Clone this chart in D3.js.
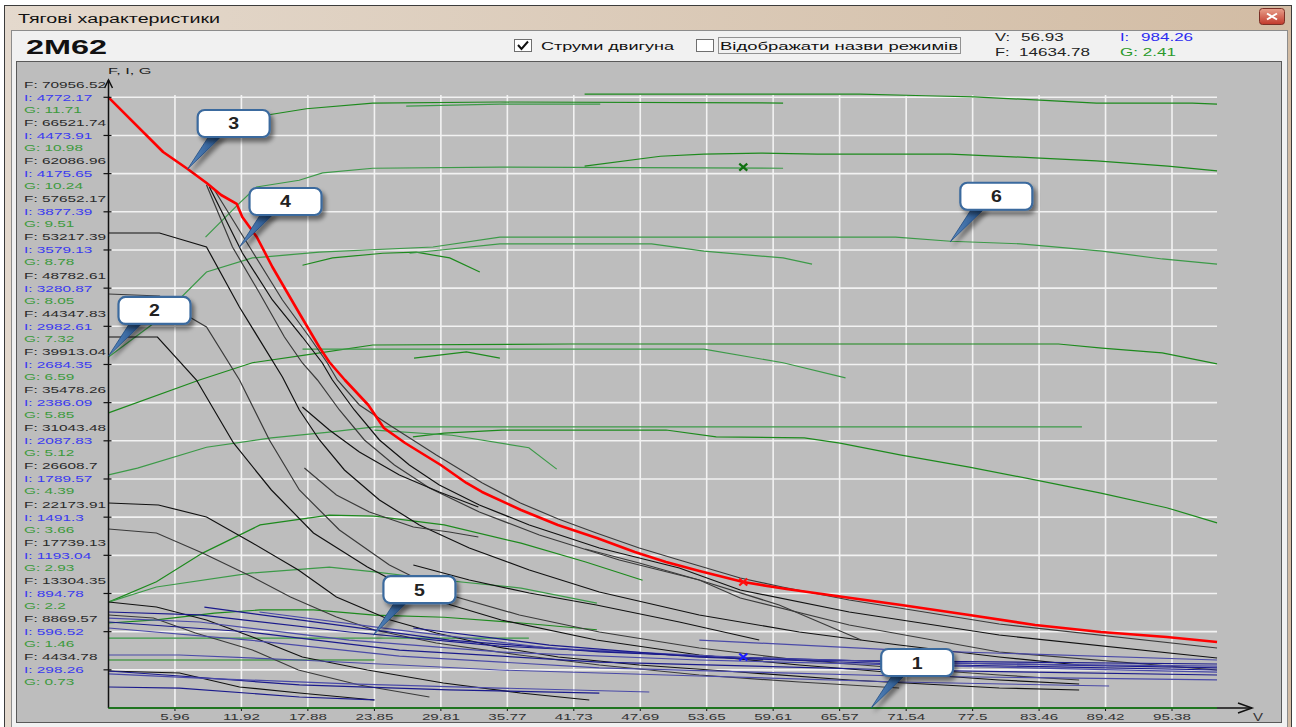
<!DOCTYPE html>
<html><head><meta charset="utf-8">
<script src="https://cdn.jsdelivr.net/npm/d3@7"></script>
<style>
html,body{margin:0;padding:0;background:#fff;}
svg{display:block;font-family:Arial,"Liberation Sans",sans-serif;}
</style></head><body>
<svg id="chart" width="1296" height="727"></svg>
<script>
// ---- axis ticks ----
const vTicks = [5.96, 11.92, 17.88, 23.85, 29.81, 35.77, 41.73, 47.69, 53.65, 59.61, 65.57, 71.54, 77.5, 83.46, 89.42, 95.38];
const fTicks = [4434.78, 8869.57, 13304.35, 17739.13, 22173.91, 26608.7, 31043.48, 35478.26, 39913.04, 44347.83, 48782.61, 53217.39, 57652.17, 62086.96, 66521.74, 70956.52];
const iTicks = [298.26, 596.52, 894.78, 1193.04, 1491.3, 1789.57, 2087.83, 2386.09, 2684.35, 2982.61, 3280.87, 3579.13, 3877.39, 4175.65, 4473.91, 4772.17];
const gTicks = [0.73, 1.46, 2.2, 2.93, 3.66, 4.39, 5.12, 5.85, 6.59, 7.32, 8.05, 8.78, 9.51, 10.24, 10.98, 11.71];

// ---- cursor readout ----
const cursorV = 56.93, cursorF = 14634.78, cursorI = 984.26, cursorG = 2.41;
const markerI = 398.5, markerG = 10.37;

// ---- limiting traction curve F(V) ----
const redEnvelope = [[0,70957],[4.9,64602],[7.1,62626],[8.8,61000],[10.1,59605],[11.5,58560],[12.0,57049],[13.3,54726],[14.7,51240],[17.1,45895],[18.9,41945],[19.8,40202],[21.2,38110],[23.3,35206],[24.7,32533],[26.6,30790],[29.8,28234],[32.1,26143],[33.5,25097],[37.0,23006],[40.3,21263],[43.8,19752],[47.2,18126],[50.0,16964],[53.0,15918],[56.93,14635],[60.8,13827],[65.3,13013],[71.1,11968],[77.2,10806],[83.1,9644],[89.0,8830],[94.9,8249],[99.42,7669]];

// ---- traction curves per position F(V) ----
const tractionCurves = [
  [[0,55190],[4.57,55190],[8.79,53564],[11.74,46592],[15.6,38459],[17.12,34625],[18.92,31139],[21.16,27653],[24.3,24168],[27.88,21263],[32.36,18590],[37.74,16034],[44.02,13478],[52.98,10806],[61.95,8830],[70.91,7320],[79.88,5926],[87.05,4996]],
  [[0,48103],[4.57,47870],[7.26,45430],[8.79,44268],[11.75,38110],[14.43,31139],[17.12,25329],[20.71,20682],[25.19,16615],[30.57,13129],[36.85,10806],[44.02,8830],[52.99,6971],[61.95,5577],[70.91,4648],[79.88,3834],[87.05,3253]],
  [[0,43106],[4.39,43106],[7.89,38110],[11.21,30790],[14.61,25329],[18.38,20333],[23.22,16383],[28.33,12897],[35.23,10225],[43.75,7901],[52.99,6158],[61.95,4996],[70.91,4067],[79.88,3253],[87.05,2789]],
  [[8.79,60767],[11.12,53564],[13.54,48219],[15.78,43106],[17.39,40086],[18.74,38110],[20.71,34625],[22.95,31139],[25.64,28234],[28.78,25562],[33.26,22773],[38.64,20101],[45.81,17196],[52.98,14872],[56.66,12781],[66.43,9644],[79.88,6507],[99.42,4415]],
  [[9.05,60535],[12.01,52866],[14.7,47406],[17.39,43106],[19.18,40086],[20.08,38110],[22.05,34625],[24.3,31139],[26.98,28234],[29.67,25910],[33.26,23587],[37.74,21263],[44.02,18590],[51.19,16267],[56.66,13710],[66.43,11154],[79.88,8482],[99.42,5810]],
  [[9.5,60186],[12.82,53215],[15.6,47406],[18.02,43106],[19.63,40086],[20.53,38110],[22.5,35205],[25.19,32882],[29.4,29396],[33.53,26143],[36.94,23819],[40.34,21960],[43.75,20333],[47.6,18590],[51.19,17196],[56.66,15105],[60.42,14059],[66.43,12549],[79.88,9760],[99.42,6971]],
  [[17.39,34973],[19.81,32301],[22.5,29745],[26.09,27072],[29.67,25097],[33.17,23354]],
  [[17.57,27886],[20.44,24748],[23.4,22773],[27.34,21030],[30.57,20449],[33.17,19868]],
  [[27.34,16615],[32.36,14872],[37.74,13362],[43.75,11968],[51.19,9992],[58.36,7901]],
  [[42.76,18474],[47.6,16848],[52.98,14872],[60.15,11968],[67.51,7901]],
  [[0,23819],[4.48,23587],[8.79,22192],[12.91,19171],[17.03,16034],[20.44,12897],[25.28,10225],[29.4,8714],[34.87,7088],[40.34,5926],[47.6,4996],[56.57,4183],[66.43,3253],[79.88,2324],[87.05,2091]],
  [[0,20798],[4.3,20333],[8.43,18009],[12.91,15221],[16.32,12897],[20.44,10573],[23.85,9063],[29.4,7552],[36.85,6158],[44.02,4996],[52.99,3834],[61.95,3021],[70.91,2324]],
  [[0,12316],[4.3,11735],[8.79,10225],[12.91,8249],[17.39,5926],[23.22,4415],[30.03,2905],[36.94,1743],[43.12,930]],
  [[0,10806],[4.03,10457],[7.8,8714],[12.91,6739],[17.03,4415],[22.5,2672],[28.78,1278]],
  [[0,4299],[6.37,4067],[11.75,2440],[17.12,1743],[23.85,930]]
];

// ---- motor current curves I(V) ----
const currentCurves = [
  [[0,750],[8.16,727],[21.6,594],[35.05,484],[52.99,406],[70.91,359],[99.42,313]],
  [[0,703],[8.16,672],[21.6,531],[35.05,438],[52.99,375],[70.91,336],[99.42,281]],
  [[0,672],[12.64,594],[26.09,453],[44.02,359],[70.91,297],[99.42,258]],
  [[0,625],[12.64,531],[26.09,406],[44.02,313],[70.91,250],[99.42,219]],
  [[8.6,789],[17.12,688],[30.57,531],[44.02,438],[61.95,375],[99.42,344]],
  [[13.54,750],[26.09,609],[39.53,469],[57.47,391],[79.88,344],[99.42,328]],
  [[27.34,625],[39.53,492],[52.99,398],[70.91,344],[99.42,297]],
  [[0,414],[6.37,414],[17.12,375],[35.05,297],[52.99,250],[70.91,203],[89.74,172]],
  [[0,289],[6.37,250],[17.12,180],[30.57,141],[44.02,117]],
  [[0,266],[8.16,234],[21.6,188],[35.05,156],[48.5,125]],
  [[0,164],[6.37,156],[17.12,86],[23.85,63]],
  [[52.99,531],[70.91,453],[99.42,375]]
];

// ---- fuel consumption curves G(V) ----
const fuelCurves = [
  [[12.65,11.31],[14.25,11.37],[17.75,11.49],[23.7,11.60],[35.1,11.62],[60.5,11.60]],
  [[26.7,11.54],[35.1,11.58],[44.1,11.58]],
  [[42.7,11.77],[67.4,11.77],[73.3,11.74],[77.6,11.72],[83.1,11.66],[88.6,11.60],[97.2,11.60],[99.42,11.58]],
  [[8.7,9.03],[11.75,9.68],[13.27,9.99],[17.1,10.12],[19.2,10.26],[23.7,10.35],[35.1,10.37],[60.5,10.35]],
  [[42.7,10.39],[49.5,10.58],[53.4,10.62],[58.5,10.64],[63.6,10.62],[75.5,10.62],[83.1,10.55],[88.6,10.49],[95.0,10.39],[99.42,10.30]],
  [[0,6.73],[4.57,7.46],[8.79,8.36],[12.9,8.63],[18.9,8.74],[29.1,8.84],[35.1,9.03],[70.6,9.03],[75.5,8.95],[81.8,8.90],[89.1,8.76],[94.5,8.61],[99.42,8.51]],
  [[17.4,8.49],[20.1,8.63],[24.6,8.72],[27.6,8.74],[30.6,8.63],[33.3,8.36]],
  [[27.0,8.72],[35.1,8.90],[48.7,8.90],[53.4,8.76],[60.5,8.63],[63.1,8.51]],
  [[0,5.66],[8.16,6.29],[12.9,6.62],[17.75,6.77],[23.7,6.96],[41.4,6.98],[85.2,6.98],[89.1,6.90],[94.5,6.81],[99.42,6.60]],
  [[17.4,6.88],[35.1,6.88],[53.4,6.88],[60.5,6.62],[66.1,6.33]],
  [[27.4,6.71],[32.1,6.83],[35.1,6.71]],
  [[0,4.47],[2.6,4.60],[8.79,5.00],[14.6,5.18],[19.8,5.29],[23.85,5.39],[87.3,5.39]],
  [[27.3,5.20],[30.1,5.27],[35.3,5.33],[50.0,5.33],[54.5,5.20],[62.4,5.18],[65.6,5.08],[71.1,4.85],[77.2,4.62],[83.2,4.37],[89.0,4.12],[94.9,3.84],[99.42,3.55]],
  [[23.85,5.33],[30.8,5.23],[37.7,4.99],[40.2,4.58]],
  [[0,2.03],[4.3,2.42],[8.43,2.97],[13.6,3.51],[19.8,3.70],[23.85,3.68],[30.1,3.51],[37.0,3.16],[42.8,2.80],[47.9,2.45]],
  [[0,2.03],[4.3,2.32],[12.9,2.59],[19.8,2.70],[23.85,2.61],[30.1,2.45],[37.0,2.30],[43.8,2.01]],
  [[0,1.63],[4.3,1.69],[9.5,1.82],[13.6,1.88],[18.4,1.88],[23.85,1.78],[30.1,1.74],[37.0,1.63],[43.8,1.50]],
  [[0,1.34],[37.7,1.34]],
  [[0,0.92],[23.85,0.92]],
  [[0,0],[99.42,0]]
];

// ---- numbered callouts: which curve point each one marks ----
const callouts = [
  {n:"1", v:68.4, q:"F", val:0},
  {n:"2", v:0, q:"G", val:6.75},
  {n:"3", v:7.1, q:"F", val:62626},
  {n:"4", v:11.75, q:"F", val:53564},
  {n:"5", v:23.76, q:"I", val:570},
  {n:"6", v:75.5, q:"G", val:8.94}
];

const svg = d3.select('#chart');
const W = 1296, H = 727;
const vMax = 99.42;

const x = d3.scaleLinear().domain([0, 95.38]).range([108.5, 1172]);
const yF = d3.scaleLinear().domain([0, 70956.52]).range([708, 97.3]);
const yI = d3.scaleLinear().domain([0, 4772.17]).range([708, 97.3]);
const yG = d3.scaleLinear().domain([0, 11.71]).range([708, 97.3]);
const yOf = {F: yF, I: yI, G: yG};

const defs = svg.append('defs');
const tg = defs.append('linearGradient').attr('id','frameGrad').attr('x1',0).attr('x2',1).attr('y1',0).attr('y2',0);
tg.append('stop').attr('offset','0%').attr('stop-color','#E4D9CD');
tg.append('stop').attr('offset','100%').attr('stop-color','#D2BCA4');
const cg = defs.append('linearGradient').attr('id','closeGrad').attr('x1',0).attr('x2',0).attr('y1',0).attr('y2',1);
cg.append('stop').attr('offset','0%').attr('stop-color','#E8A08C');
cg.append('stop').attr('offset','100%').attr('stop-color','#C2392B');
const sh = defs.append('filter').attr('id','shadow').attr('x','-30%').attr('y','-30%').attr('width','170%').attr('height','180%');
sh.append('feDropShadow').attr('dx',3).attr('dy',4).attr('stdDeviation',2.2).attr('flood-color','#000').attr('flood-opacity',0.45);
const tailG = defs.append('linearGradient').attr('id','tailGrad').attr('x1',0).attr('x2',1).attr('y1',0).attr('y2',0);
tailG.append('stop').attr('offset','0%').attr('stop-color','#5C8CC4');
tailG.append('stop').attr('offset','100%').attr('stop-color','#1E4A80');

// stretched text helper
function txt(parent, str, px, py, size, sx, fill, opts = {}) {
  const t = parent.append('text')
    .attr('transform', `translate(${px},${py}) scale(${sx},1)`)
    .attr('font-size', size).attr('fill', fill).text(str);
  if (opts.weight) t.attr('font-weight', opts.weight);
  if (opts.anchor) t.attr('text-anchor', opts.anchor);
  return t;
}

// ---- window chrome ----
svg.append('rect').attr('width', W).attr('height', H).attr('fill', '#fff');
svg.append('rect').attr('x',4.5).attr('y',5.5).attr('width',1287).attr('height',725)
  .attr('fill','url(#frameGrad)').attr('stroke','#3c3c3c');
svg.append('text').attr('x',18).attr('y',23).attr('font-size',12.5).attr('fill','#111')
  .attr('textLength',202).attr('lengthAdjust','spacingAndGlyphs').text('Тягові характеристики');
svg.append('rect').attr('x',1259.5).attr('y',8.5).attr('width',25).attr('height',16).attr('rx',3)
  .attr('fill','url(#closeGrad)').attr('stroke','#7a3026');
svg.append('path').attr('d','M1267,13.5 L1277,19.5 M1277,13.5 L1267,19.5').attr('stroke','#fff').attr('stroke-width',2);

svg.append('rect').attr('x',11.5).attr('y',30.5).attr('width',1276).attr('height',697)
  .attr('fill','#F1F1F1').attr('stroke','#8c8c8c');
svg.append('text').attr('x',26).attr('y',54).attr('font-size',20).attr('font-weight','bold').attr('fill','#111')
  .attr('textLength',81).attr('lengthAdjust','spacingAndGlyphs').text('2M62');

// checkboxes
svg.append('rect').attr('x',514.5).attr('y',39.5).attr('width',17).attr('height',12).attr('fill','#fff').attr('stroke','#6f6f6f');
svg.append('path').attr('d','M518,45 L521.5,49 L528,41.5').attr('fill','none').attr('stroke','#111').attr('stroke-width',2);
svg.append('text').attr('x',541).attr('y',50).attr('font-size',11.5).attr('fill','#111')
  .attr('textLength',133).attr('lengthAdjust','spacingAndGlyphs').text('Струми двигуна');
svg.append('rect').attr('x',696.5).attr('y',39.5).attr('width',17).attr('height',12).attr('fill','#fff').attr('stroke','#6f6f6f');
svg.append('rect').attr('x',718.5).attr('y',37.5).attr('width',242).attr('height',16).attr('fill','none')
  .attr('stroke','#333').attr('stroke-dasharray','1,1');
svg.append('text').attr('x',720).attr('y',50).attr('font-size',11.5).attr('fill','#111')
  .attr('textLength',238).attr('lengthAdjust','spacingAndGlyphs').text('Відображати назви режимів');

// readout
txt(svg, 'V:', 995, 41, 11, 1.5, '#222');
txt(svg, String(cursorV), 1021, 41, 11, 1.55, '#222');
txt(svg, 'F:', 995, 56, 11, 1.5, '#222');
txt(svg, String(cursorF), 1019, 56, 11, 1.55, '#222');
txt(svg, 'I:', 1120, 41, 11, 1.5, '#2b2bf0');
txt(svg, String(cursorI), 1141, 41, 11, 1.55, '#2b2bf0');
txt(svg, 'G: ' + cursorG, 1120, 56, 11, 1.55, '#2c9a2c');

// plot panel
svg.append('rect').attr('x',16.5).attr('y',61.5).attr('width',1265).attr('height',661)
  .attr('fill','#BDBDBD').attr('stroke','#595959');

const plot = svg.append('g');

// grid
plot.selectAll('.vgrid').data(vTicks).join('line')
  .attr('x1', d => x(d)).attr('x2', d => x(d)).attr('y1', 95).attr('y2', yF(0))
  .attr('stroke', '#F2F2F2').attr('stroke-width', 1.6);
plot.selectAll('.hgrid').data(fTicks).join('line')
  .attr('x1', x(0)).attr('x2', x(vMax)).attr('y1', d => yF(d)).attr('y2', d => yF(d))
  .attr('stroke', '#F2F2F2').attr('stroke-width', 1.6);

const lineF = d3.line().x(d => x(d[0])).y(d => yF(d[1]));
const lineI = d3.line().x(d => x(d[0])).y(d => yI(d[1]));
const lineG = d3.line().x(d => x(d[0])).y(d => yG(d[1]));

// fuel (green)
plot.selectAll('.g').data(fuelCurves).join('path')
  .attr('d', lineG).attr('fill','none')
  .attr('stroke', (d,i) => i % 2 ? '#3c9a48' : '#1d8a1d').attr('stroke-width', 1.2);

// traction (black)
plot.selectAll('.k').data(tractionCurves).join('path')
  .attr('d', lineF).attr('fill','none')
  .attr('stroke', (d,i) => i % 2 ? '#3a3a3a' : '#111').attr('stroke-width', 1.2);

// currents (blue)
plot.selectAll('.b').data(currentCurves).join('path')
  .attr('d', lineI).attr('fill','none')
  .attr('stroke', (d,i) => i % 2 ? '#4a4aa8' : '#1a1a8c').attr('stroke-width', 1.2);

// limiting curve
plot.append('path').datum(redEnvelope).attr('d', lineF).attr('fill','none')
  .attr('stroke','#ff0000').attr('stroke-width',2.6).attr('stroke-linejoin','round');

// cursor markers
function cross(px, py, color) {
  plot.append('path').attr('d', `M${px-4},${py-3.5} L${px+4},${py+3.5} M${px+4},${py-3.5} L${px-4},${py+3.5}`)
    .attr('stroke', color).attr('stroke-width', 2.2);
}
cross(x(cursorV), yF(cursorF), '#ff1010');
cross(x(cursorV), yI(markerI), '#1c1cff');
cross(x(cursorV), yG(markerG), '#107010');

// axes
const ax = svg.append('g').attr('stroke','#111').attr('stroke-width',1.5).attr('fill','none');
ax.append('line').attr('x1', x(0)).attr('x2', x(0)).attr('y1', yF(0)).attr('y2', 80);
ax.append('path').attr('d', `M${x(0)-4},${88} L${x(0)},${80} L${x(0)+4},${88}`);
ax.append('line').attr('x1', x(0)).attr('x2', 1252).attr('y1', yF(0)).attr('y2', yF(0));
ax.append('path').attr('d', `M1238,${yF(0)-5} L1252,${yF(0)} L1238,${yF(0)+5}`);
svg.append('path').datum(fuelCurves[fuelCurves.length-1]).attr('d', lineG).attr('fill','none')
  .attr('stroke','#1d8a1d').attr('stroke-width',1.6);
ax.selectAll('.yt').data(fTicks).join('line')
  .attr('x1', x(0)-5).attr('x2', x(0)+3).attr('y1', d => yF(d)).attr('y2', d => yF(d)).attr('stroke-width',1.2);
ax.selectAll('.xt').data(vTicks).join('line')
  .attr('x1', d => x(d)).attr('x2', d => x(d)).attr('y1', yF(0)).attr('y2', yF(0)+3).attr('stroke-width',1);

// axis labels
txt(svg, 'F, I, G', 108, 74, 9.5, 1.72, '#222');
txt(svg, 'V', 1253, 721, 10, 1.5, '#333');
vTicks.forEach(v => txt(svg, String(v), x(v), 720, 9.5, 1.6, '#333', {anchor:'middle'}));
fTicks.forEach((f, k) => {
  const ty = yF(f);
  txt(svg, 'F: ' + f, 24, ty - 9.5, 9.5, 1.62, '#2a2a2a');
  txt(svg, 'I: ' + iTicks[k], 24, ty + 3.5, 9.5, 1.62, '#3a3af0');
  txt(svg, 'G: ' + gTicks[k], 24, ty + 15.5, 9.5, 1.62, '#3c9a3c');
});

// callouts
const cl = svg.append('g');
callouts.forEach(c => {
  const tx = x(c.v), ty = yOf[c.q](c.val);
  const left = tx + 10, top = ty - 59, w = 72, h = 27;
  const g = cl.append('g');
  g.append('path').attr('d', `M${left+12},${top+h-2} L${left+25},${top+h-2} L${tx},${ty} Z`)
    .attr('fill','url(#tailGrad)').attr('stroke','#1E4A80').attr('stroke-width',0.8).attr('filter','url(#shadow)');
  g.append('rect').attr('x', left).attr('y', top).attr('width', w).attr('height', h).attr('rx', 7)
    .attr('fill','#fff').attr('stroke','#3B6A9E').attr('stroke-width',2.2).attr('filter','url(#shadow)');
  txt(g, c.n, left + w/2, top + h/2 + 6, 17, 1.15, '#222', {anchor:'middle', weight:'bold'});
});
</script></body></html>
